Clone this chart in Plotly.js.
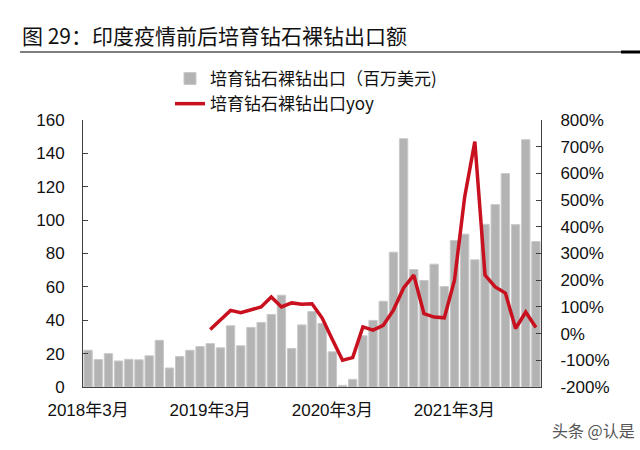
<!DOCTYPE html>
<html><head><meta charset="utf-8">
<script src="https://cdn.plot.ly/plotly-3.0.1.min.js"></script>
<style>html,body{margin:0;padding:0;background:#fff}#chart{width:640px;height:450px}</style>
</head><body><div id="chart"></div>
<script>
const chartTitle = "图 29：印度疫情前后培育钻石裸钻出口额";
const seriesNames = ["培育钻石裸钻出口（百万美元)", "培育钻石裸钻出口yoy"];
const months = [
  "2018-03","2018-04","2018-05","2018-06","2018-07","2018-08","2018-09","2018-10","2018-11","2018-12","2019-01","2019-02",
  "2019-03","2019-04","2019-05","2019-06","2019-07","2019-08","2019-09","2019-10","2019-11","2019-12","2020-01","2020-02",
  "2020-03","2020-04","2020-05","2020-06","2020-07","2020-08","2020-09","2020-10","2020-11","2020-12","2021-01","2021-02",
  "2021-03","2021-04","2021-05","2021-06","2021-07","2021-08","2021-09","2021-10","2021-11"
];
const exportValue = [
  22, 16.5, 20, 15.6, 16.6, 16.3, 18.7, 28, 11.4, 18.3, 22, 24.3,
  26, 23.5, 36.7, 24.7, 35.7, 38.7, 43.5, 55, 23.1, 37.2, 45.2, 38.1,
  21.1, 1, 4.6, 30.7, 39.9, 51.4, 80.8, 148.8, 70.4, 63.8, 73.6, 60.2,
  87.8, 91.6, 76.2, 97.5, 109.3, 127.9, 97.3, 148.2, 87.2
];
const exportYoy = [
  null, null, null, null, null, null, null, null, null, null, null, null,
  15, 50, 87, 78, 90, 100, 137, 100, 115, 110, 112, 58,
  -22, -100, -90, 25, 13, 31, 88, 171, 219, 75, 62, 59,
  200, 512, 719, 219, 175, 152, 19, 81, 23
];
const tickMonths = ["2018-03", "2019-03", "2020-03", "2021-03"];
const tickLabels = ["2018年3月", "2019年3月", "2020年3月", "2021年3月"];
const leftTicks = [0, 20, 40, 60, 80, 100, 120, 140, 160];
const rightTicks = [-200, -100, 0, 100, 200, 300, 400, 500, 600, 700, 800];
const rightTickLabels = ["-200%", "-100%", "0%", "100%", "200%", "300%", "400%", "500%", "600%", "700%", "800%"];
const watermark = "头条 @认是";

const boundaries = tickMonths.slice(1).map(m => months.indexOf(m) - 0.5);
const latin = "Liberation Sans, Arial, Noto Sans CJK SC, sans-serif";
const cjk = "Noto Sans CJK SC, Liberation Sans, sans-serif";

const traces = [
  {
    type: "bar", x: months, y: exportValue, name: seriesNames[0],
    marker: {color: "#b3b3b3", line: {color: "#c9c9c9", width: 1}},
    xaxis: "x", yaxis: "y"
  },
  {
    type: "scatter", mode: "lines", x: months, y: exportYoy, name: seriesNames[1],
    line: {color: "#c8101e", width: 3.5}, connectgaps: false,
    xaxis: "x", yaxis: "y2"
  }
];

const layout = {
  width: 640, height: 450,
  margin: {l: 83, r: 99, t: 120, b: 63, pad: 0},
  paper_bgcolor: "#fff", plot_bgcolor: "#fff",
  bargap: 0.18,
  title: {
    text: chartTitle, font: {family: cjk, size: 21, color: "#111"},
    x: 22 / 640, xanchor: "left", xref: "container",
    y: 1 - 37 / 450, yanchor: "middle", yref: "container"
  },
  showlegend: true,
  legend: {
    x: (170 - 83) / 458, xanchor: "left", xref: "paper",
    y: (387 - 61) / 267, yanchor: "top", yref: "paper",
    font: {family: cjk, size: 17, color: "#111"},
    bgcolor: "rgba(0,0,0,0)", traceorder: "normal",
    tracegroupgap: 0, itemwidth: 30
  },
  xaxis: {
    type: "category", range: [-0.5, months.length - 0.5],
    tickmode: "array", tickvals: tickMonths, ticktext: tickLabels,
    ticks: "", showline: true, linecolor: "#404040", linewidth: 1,
    showgrid: false, zeroline: false, ticklabelstandoff: 8,
    tickfont: {family: latin, size: 17, color: "#111"}
  },
  xaxis2: {
    type: "linear", overlaying: "x", anchor: "y", side: "bottom",
    range: [-0.5, months.length - 0.5],
    tickmode: "array", tickvals: boundaries, ticks: "inside", ticklen: 5,
    tickcolor: "#404040", showticklabels: false, showline: false,
    showgrid: false, zeroline: false
  },
  yaxis: {
    range: [0, 160], tickmode: "array", tickvals: leftTicks,
    ticks: "inside", ticklen: 5, tickcolor: "#404040",
    showline: true, linecolor: "#404040", linewidth: 1,
    showgrid: false, zeroline: false, ticklabelstandoff: 14,
    tickfont: {family: latin, size: 17, color: "#111"}
  },
  yaxis2: {
    range: [-200, 800], overlaying: "y", side: "right", anchor: "x",
    tickmode: "array", tickvals: rightTicks, ticktext: rightTickLabels,
    ticks: "inside", ticklen: 5, tickcolor: "#404040",
    showline: true, linecolor: "#404040", linewidth: 1,
    showgrid: false, zeroline: false, ticklabelstandoff: 15,
    tickfont: {family: latin, size: 17, color: "#111"}
  },
  shapes: [
    {type: "line", xref: "paper", yref: "paper",
     x0: (20 - 83) / 458, x1: (621 - 83) / 458, y0: (387 - 52) / 267, y1: (387 - 52) / 267,
     line: {color: "#000", width: 1}},
    {type: "line", xref: "paper", yref: "paper",
     x0: (621 - 83) / 458, x1: (640 - 83) / 458, y0: (387 - 52) / 267, y1: (387 - 52) / 267,
     line: {color: "#000", width: 3}}
  ],
  annotations: [
    {text: watermark, xref: "paper", yref: "paper", x: (637 - 83) / 458, xanchor: "right",
     y: (387 - 430) / 267, yanchor: "middle", showarrow: false,
     font: {family: cjk, size: 16, color: "#555"}}
  ]
};

Plotly.newPlot("chart", traces, layout, {displayModeBar: false, staticPlot: true});
</script></body></html>
